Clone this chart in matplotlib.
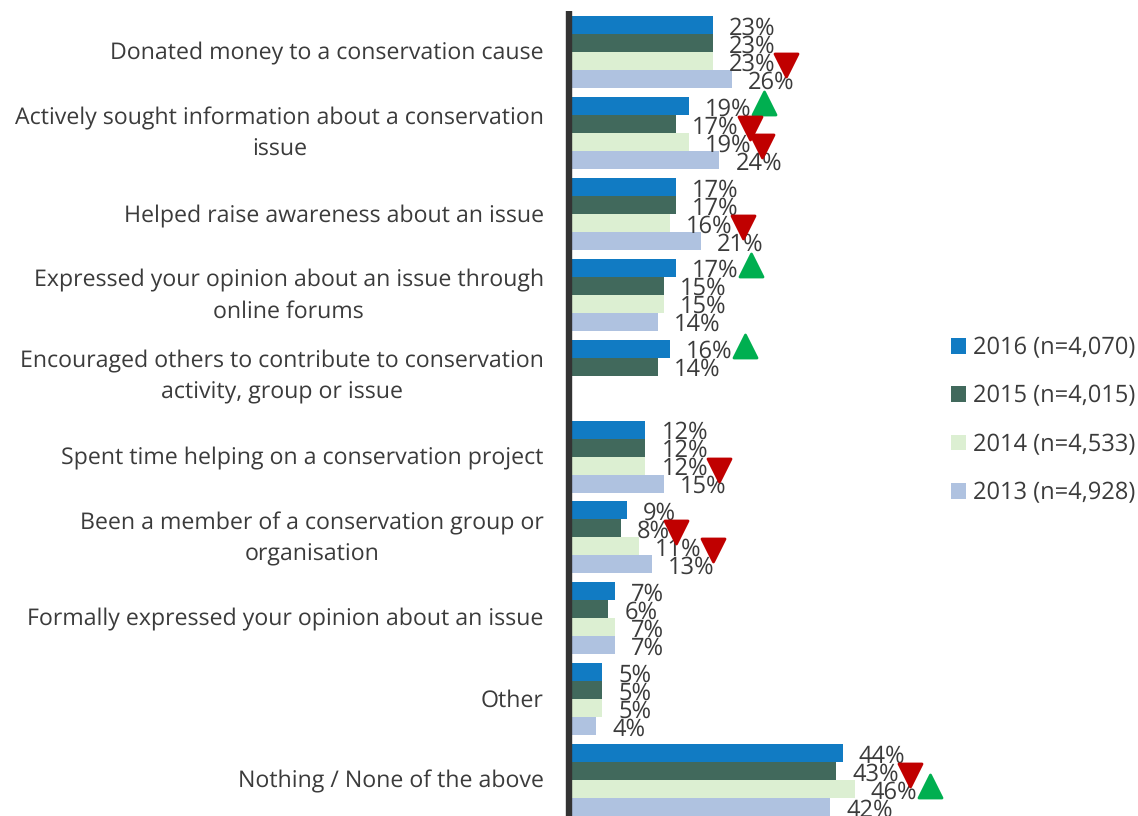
import numpy as np
from matplotlib import pyplot as plt
from matplotlib.patches import Patch

plt.rcParams['font.family'] = ['Open Sans', 'DejaVu Sans']
plt.rcParams['text.hinting'] = 'none'

CATEGORIES = [
    'Donated money to a conservation cause',
    'Actively sought information about a conservation\nissue',
    'Helped raise awareness about an issue',
    'Expressed your opinion about an issue through\nonline forums',
    'Encouraged others to contribute to conservation\nactivity, group or issue',
    'Spent time helping on a conservation project',
    'Been a member of a conservation group or\norganisation',
    'Formally expressed your opinion about an issue',
    'Other',
    'Nothing / None of the above',
]

YEARS = ['2016 (n=4,070)', '2015 (n=4,015)', '2014 (n=4,533)', '2013 (n=4,928)']
COLOURS = ['#117BC3', '#41695C', '#DCEFD2', '#AFC2E0']

V2016 = [23, 19, 17, 17, 16, 12, 9, 7, 5, 44]
V2015 = [23, 17, 17, 15, 14, 12, 8, 6, 5, 43]
V2014 = [23, 19, 16, 15, None, 12, 11, 7, 5, 46]
V2013 = [26, 24, 21, 14, None, 15, 13, 7, 4, 42]

# significant changes: +1 up, -1 down, 0 none
S2016 = [0, 1, 0, 1, 1, 0, 0, 0, 0, 0]
S2015 = [0, -1, 0, 0, 0, 0, -1, 0, 0, -1]
S2014 = [-1, -1, -1, 0, 0, -1, -1, 0, 0, 1]
S2013 = [0, 0, 0, 0, 0, 0, 0, 0, 0, 0]

W, H = 1138, 816
X0 = 571.5         # pixel of the zero line
PX_PER_PCT = 6.16
FIRST_Y = 52       # pixel centre of the first group
GROUP_H = 80.9
BAR_H = 18 / GROUP_H

TEXT = '#3B3B3B'
GREEN = '#00AF50'
RED = '#C00000'

fig = plt.figure(figsize=(W / 100, H / 100), dpi=100)
ax = fig.add_axes([X0 / W, 0, 1 - X0 / W, 1])
ax.set_xlim(0, (W - X0) / PX_PER_PCT)
ax.set_ylim((H - FIRST_Y) / GROUP_H, -FIRST_Y / GROUP_H)
ax.axis('off')

values = [V2016, V2015, V2014, V2013]
signals = [S2016, S2015, S2014, S2013]

for s in range(4):
    for g in range(len(CATEGORIES)):
        v = values[s][g]
        if v is None:
            continue
        y = g + (s - 1.5) * BAR_H
        ax.barh(y, v, height=BAR_H, color=COLOURS[s], linewidth=0)
        ax.text(v + 2.6, y + 0.04, f'{v}%', ha='left', va='center',
                fontsize=17, color=TEXT, clip_on=False)
        # the arrow sits just past the label, so one digit brings it closer
        off = 12 if v >= 10 else 9
        if signals[s][g] > 0:
            ax.scatter(v + off + 0.2, y - 0.035, marker='^', s=275,
                       color=GREEN, linewidths=2, edgecolors=GREEN,
                       joinstyle='round', zorder=5, clip_on=False)
        elif signals[s][g] < 0:
            ax.scatter(v + off - 0.1, y + 0.05, marker='v', s=275, color=RED,
                       linewidths=2, edgecolors=RED, joinstyle='round',
                       zorder=5, clip_on=False)

# thick category axis line, left of the bars
ax.plot([-0.4, -0.4], [-0.51, 9.6], color='#333333', lw=4.6,
        solid_capstyle='butt', clip_on=False)

for g, label in enumerate(CATEGORIES):
    ax.text(-4.5, g + 0.02, label, ha='right', va='center',
            multialignment='center', fontsize=16.7, color=TEXT,
            linespacing=1.48, clip_on=False)

handles = [Patch(color=c, linewidth=0) for c in COLOURS]
fig.legend(handles, YEARS, loc='center left',
           bbox_to_anchor=(951 / W, 1 - 420.5 / H), frameon=False, fontsize=17,
           labelcolor=TEXT, handlelength=0.64, handleheight=0.64,
           handletextpad=0.3, labelspacing=1.03, borderpad=0, borderaxespad=0)

fig.savefig('out.png', dpi=100)
